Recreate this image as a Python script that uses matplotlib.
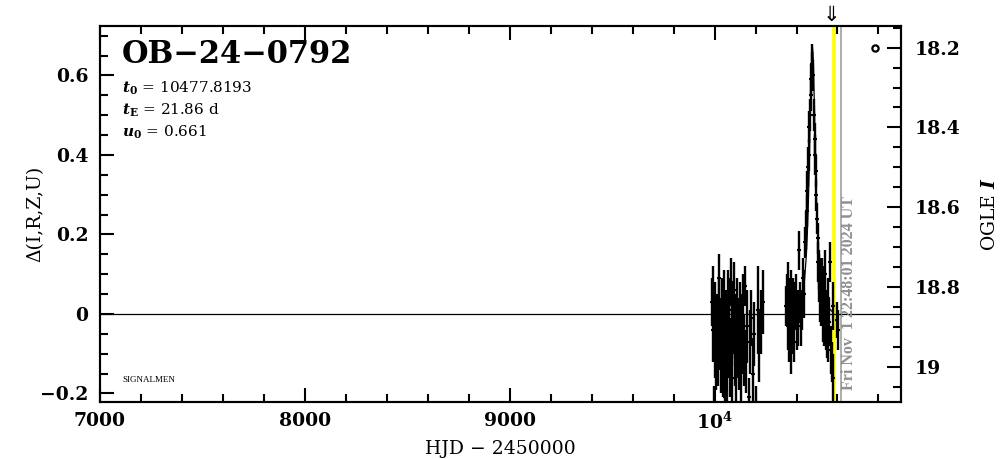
import matplotlib
matplotlib.use("Agg")
import matplotlib.pyplot as plt
from matplotlib.ticker import MultipleLocator, FuncFormatter

# OGLE photometry, season 1 (HJD - 2450000, delta mag, error)
c1_t = [9986, 9990, 9994, 9997, 10001, 10004, 10008, 10012, 10016, 10020,
        10024, 10028, 10031, 10035, 10039, 10042, 10046, 10050, 10053, 10057,
        10061, 10064, 10068, 10072, 10075, 10079, 10083, 10086, 10090, 10094,
        10098, 10102, 10106, 10110, 10114, 10118, 10122, 10127, 10132, 10137,
        10142, 10148, 10154, 10160, 10166, 10173, 10180, 10187, 10194, 10202,
        10210, 10218, 10226, 10234]
c1_d = [0.03, 0.05, -0.04, -0.25, -0.07, 0.01, -0.10, -0.03, -0.08, 0.02,
        0.09, -0.05, -0.12, 0.00, -0.15, -0.06, 0.03, -0.21, -0.09, -0.02,
        -0.13, 0.04, -0.07, 0.01, -0.11, 0.08, -0.04, -0.16, -0.01, 0.06,
        -0.08, -0.03, -0.13, 0.02, -0.06, -0.10, 0.00, -0.14, -0.05, 0.03,
        -0.09, 0.07, -0.12, -0.03, -0.21, -0.07, -0.01, -0.15, -0.05, -0.23,
        0.01, -0.08, -0.02, 0.03]
c1_e = [0.06, 0.07, 0.08, 0.07, 0.09, 0.07, 0.09, 0.08, 0.10, 0.07,
        0.06, 0.09, 0.08, 0.09, 0.06, 0.10, 0.08, 0.05, 0.09, 0.08,
        0.10, 0.07, 0.09, 0.08, 0.10, 0.06, 0.09, 0.08, 0.09, 0.07,
        0.10, 0.08, 0.09, 0.07, 0.10, 0.09, 0.08, 0.08, 0.10, 0.07,
        0.09, 0.05, 0.08, 0.09, 0.05, 0.08, 0.07, 0.09, 0.08, 0.05,
        0.11, 0.09, 0.08, 0.08]

# season 2 with the event
c2_t = [10350, 10354, 10357, 10360, 10363, 10366, 10369, 10372, 10375, 10378,
        10381, 10385, 10389, 10393, 10397, 10401, 10405, 10409, 10414, 10418,
        10422, 10426, 10430, 10435, 10440, 10445, 10450, 10453, 10456, 10460,
        10463, 10466, 10470, 10473, 10475, 10477, 10480, 10484, 10488, 10490,
        10493, 10496, 10500, 10503, 10506, 10509, 10512, 10515, 10518, 10521,
        10524, 10527, 10530, 10533, 10536, 10539, 10542, 10545, 10548, 10552,
        10556, 10560, 10564, 10568, 10572, 10576, 10579, 10600, 10604]
c2_d = [0.02, 0.05, -0.03, 0.07, -0.06, 0.01, 0.04, -0.09, 0.06, -0.04,
        0.03, 0.00, -0.07, 0.02, 0.05, -0.03, 0.01, -0.02, 0.16, 0.03,
        -0.03, 0.01, 0.09, 0.05, 0.18, 0.21, 0.26, 0.31, 0.37, 0.40,
        0.47, 0.50, 0.55, 0.59, 0.63, 0.61, 0.60, 0.50, 0.44, 0.40,
        0.36, 0.30, 0.24, 0.19, 0.13, 0.09, 0.11, 0.04, 0.07, 0.02,
        0.08, -0.01, 0.05, -0.03, 0.03, 0.10, -0.02, 0.01, -0.05, 0.04,
        -0.07, -0.02, 0.13, -0.09, -0.12, 0.02, -0.16, -0.015, -0.04]
c2_e = [0.05, 0.05, 0.06, 0.06, 0.06, 0.07, 0.05, 0.06, 0.05, 0.06,
        0.06, 0.05, 0.05, 0.06, 0.05, 0.06, 0.05, 0.06, 0.05, 0.05,
        0.05, 0.05, 0.05, 0.06, 0.04, 0.05, 0.04, 0.05, 0.05, 0.04,
        0.04, 0.04, 0.04, 0.04, 0.05, 0.05, 0.04, 0.04, 0.04, 0.05,
        0.04, 0.04, 0.04, 0.04, 0.05, 0.06, 0.05, 0.06, 0.07, 0.05,
        0.06, 0.06, 0.07, 0.05, 0.06, 0.06, 0.07, 0.05, 0.06, 0.05,
        0.05, 0.06, 0.05, 0.06, 0.05, 0.06, 0.06, 0.045, 0.05]

# model curve
model_t = [10378, 10418, 10428, 10438, 10448, 10453, 10458, 10463, 10465,
           10468, 10470, 10473, 10475, 10478, 10480, 10483, 10485, 10488,
           10490, 10493, 10498, 10503, 10508, 10518, 10528, 10538, 10578]
model_d = [0.004, 0.025, 0.043, 0.078, 0.148, 0.205, 0.285, 0.389, 0.449,
           0.511, 0.571, 0.623, 0.658, 0.671, 0.658, 0.623, 0.571, 0.511,
           0.449, 0.389, 0.285, 0.205, 0.148, 0.078, 0.043, 0.025, 0.004]

t_yellow = 10583
t_now = 10616.45
t_arrow = 10568

plt.rcParams['font.family'] = ['DejaVu Serif', 'DejaVu Sans']
plt.rcParams['font.weight'] = 'bold'
plt.rcParams['mathtext.fontset'] = 'custom'
plt.rcParams['mathtext.rm'] = 'DejaVu Serif'
plt.rcParams['mathtext.it'] = 'DejaVu Serif:italic'
plt.rcParams['mathtext.bf'] = 'DejaVu Serif:bold'
plt.rcParams['axes.linewidth'] = 1.5

fig = plt.figure(figsize=(10.04, 4.59), dpi=100)
ax = fig.add_axes([100/1004, 1-402/459, 801/1004, 376/459])
ax.set_xlim(7000, 10910)
ax.set_ylim(-0.2214, 0.7245)

ax.axvline(t_yellow, color='#ffff00', lw=2.6, zorder=1)
ax.axvline(t_now, color='#a0a0a0', lw=1.2, zorder=1)
ax.axhline(0, color='k', lw=0.9, zorder=2)
ax.plot(model_t, model_d, 'k-', lw=0.9, zorder=2)

for t, d, e in [(c1_t, c1_d, c1_e), (c2_t, c2_d, c2_e)]:
    ax.errorbar(t, d, yerr=e, fmt='_', ms=3, mew=1.5, color='k',
                elinewidth=1.7, capsize=0, zorder=3)

ax.plot([10782], [0.67], 'o', mfc='none', mec='k', ms=4.5, mew=1.6)

def xfmt(v, pos):
    if abs(v - 10000) < 1:
        return r'$\mathbf{10^4}$'
    return '%d' % v

def yfmt(v, pos):
    return ('%g' % round(v, 2)).replace('-', '\u2212')

ax.xaxis.set_major_locator(MultipleLocator(1000))
ax.xaxis.set_minor_locator(MultipleLocator(200))
ax.xaxis.set_major_formatter(FuncFormatter(xfmt))
ax.yaxis.set_major_locator(MultipleLocator(0.2))
ax.yaxis.set_minor_locator(MultipleLocator(0.05))
ax.yaxis.set_major_formatter(FuncFormatter(yfmt))
ax.tick_params(which='both', direction='in', top=True, right=False, width=1.5)
ax.tick_params(which='major', length=10, labelsize=13.5)
ax.tick_params(which='minor', length=5.5)
ax.tick_params(axis='x', pad=7)
ax.tick_params(axis='y', pad=8.5)

ax2 = ax.twinx()
ax2.set_ylim(19.0886, 18.1456)
ax2.yaxis.set_major_locator(MultipleLocator(0.2))
ax2.yaxis.set_minor_locator(MultipleLocator(0.05))
ax2.yaxis.set_major_formatter(FuncFormatter(lambda v, p: '%g' % round(v, 2)))
ax2.tick_params(which='both', direction='in', width=1.5)
ax2.tick_params(which='major', length=10, labelsize=13.5, pad=10)
ax2.tick_params(which='minor', length=5.5)

ax.set_xlabel('HJD \u2212 2450000', fontsize=13.5)
ax.xaxis.set_label_coords(0.5, -0.1)
ax.set_ylabel('\u0394(I,R,Z,U)', fontsize=13.5)
ax.yaxis.set_label_coords(-0.07, 0.5)
ax2.set_ylabel(r'OGLE $I$', fontsize=13.5)
ax2.yaxis.set_label_coords(1.1, 0.5)

ax.text(0.0275, 0.923, 'OB\u221224\u22120792', transform=ax.transAxes,
        fontsize=22, ha='left', va='center')
ax.text(0.0275, 0.835, r'$t_0$ = 10477.8193', transform=ax.transAxes,
        fontsize=11, weight='normal', ha='left', va='center')
ax.text(0.0275, 0.777, r'$t_{\rm E}$ = 21.86 d', transform=ax.transAxes,
        fontsize=11, weight='normal', ha='left', va='center')
ax.text(0.0275, 0.718, r'$u_0$ = 0.661', transform=ax.transAxes,
        fontsize=11, weight='normal', ha='left', va='center')
ax.text(0.0275, 0.0585, 'SIGNALMEN', transform=ax.transAxes,
        fontsize=6.5, family='Liberation Serif', weight='normal',
        ha='left', va='center')
ax.text(10655, -0.191, 'Fri Nov  1 22:48:01 2024 UT', rotation=90,
        ha='center', va='bottom', color='#909090', family='Liberation Serif',
        weight='bold', fontsize=11.5)
ax.annotate('\u21d3', xy=(t_arrow, 1.0), xycoords=('data', 'axes fraction'),
            xytext=(0, 1), textcoords='offset points', ha='center',
            va='bottom', fontsize=15, family='DejaVu Sans', weight='normal',
            annotation_clip=False)

fig.savefig('out.png', dpi=100)
